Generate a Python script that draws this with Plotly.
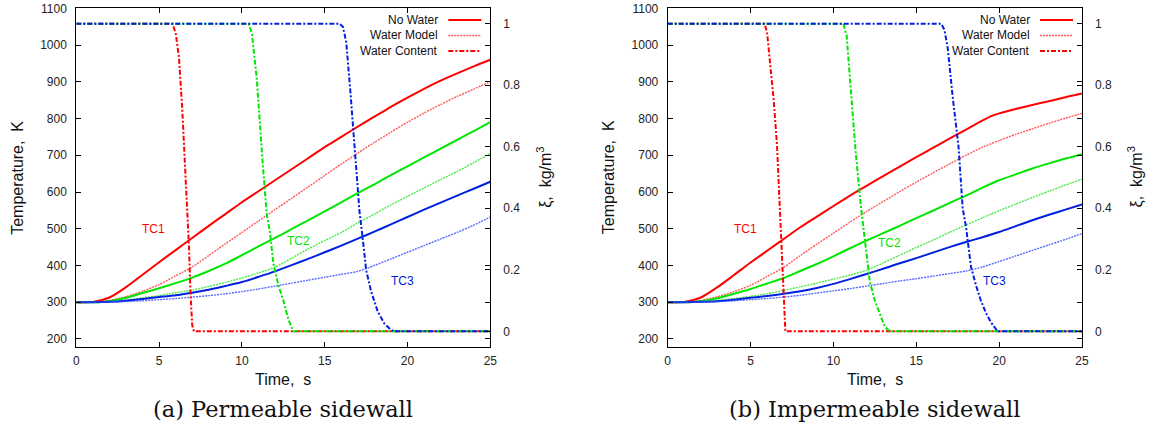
import plotly.graph_objects as go

# ---------------- data ----------------
t_sec = list(range(26))

# (a) Permeable sidewall - temperatures (K)
a_tc1_nowater = [300, 301, 313, 341, 375, 409, 442, 475, 508, 540, 572, 602, 632, 662, 692, 722, 750, 778, 805, 832, 857, 881, 903, 923, 942, 960]
a_tc1_model = [300, 300, 305, 315, 330, 348, 372, 396, 427, 459, 490, 521, 552, 583, 614, 645, 676, 706, 735, 763, 790, 815, 838, 860, 880, 900]
a_tc2_nowater = [300, 300, 303, 312, 325, 338, 352, 367, 385, 405, 428, 452, 475, 499, 523, 547, 572, 597, 621, 646, 670, 694, 718, 742, 766, 790]
a_tc2_model = [300, 300, 302, 306, 312, 318, 326, 333, 343, 354, 366, 380, 395, 420, 445, 468, 490, 516, 540, 565, 588, 611, 634, 656, 680, 705]
a_tc3_nowater = [300, 300, 301, 304, 309, 314, 319, 326, 334, 344, 355, 369, 384, 401, 418, 436, 454, 473, 492, 512, 532, 552, 571, 590, 609, 628]
a_tc3_model = [300, 300, 301, 302, 304, 307, 310, 314, 318, 323, 329, 336, 344, 352, 360, 368, 376, 384, 400, 418, 436, 454, 472, 490, 510, 532]

# (a) water content (kg/m^3)
a_tc1_wc_t = [0, 5.8, 6.0, 6.2, 6.4, 6.6, 6.8, 6.9, 7.0, 7.1, 25]
a_tc1_wc = [1, 1, 0.97, 0.89, 0.72, 0.5, 0.28, 0.12, 0.02, 0, 0]
a_tc2_wc_t = [0, 10.4, 10.6, 10.9, 11.25, 11.5, 11.7, 11.9, 12.2, 12.5, 12.8, 13.1, 25]
a_tc2_wc = [1, 1, 0.97, 0.82, 0.55, 0.38, 0.32, 0.22, 0.15, 0.1, 0.04, 0, 0]
a_tc3_wc_t = [0, 15.9, 16.1, 16.3, 16.55, 16.8, 17.1, 17.3, 17.5, 17.8, 18.2, 18.6, 19.0, 19.2, 25]
a_tc3_wc = [1, 1, 0.99, 0.94, 0.78, 0.6, 0.39, 0.3, 0.2, 0.13, 0.065, 0.025, 0.005, 0, 0]

# (b) Impermeable sidewall - temperatures (K)
b_tc1_nowater_t = [0, 1, 2, 3, 4, 5, 6, 7, 8, 9, 10, 11, 12, 13, 14, 15, 16, 17, 18, 19, 19.6, 20, 21, 22, 23, 24, 25]
b_tc1_nowater = [300, 301, 313, 341, 374, 408, 440, 472, 504, 533, 562, 590, 617, 643, 669, 695, 720, 745, 770, 795, 808, 814, 826, 837, 847, 858, 868]
b_tc1_model = [300, 300, 305, 315, 329, 346, 370, 395, 427, 458, 488, 518, 547, 574, 601, 627, 652, 676, 700, 722, 740, 757, 772, 787, 801, 814]
b_tc2_nowater = [300, 300, 303, 311, 323, 336, 351, 366, 385, 404, 425, 447, 468, 488, 508, 529, 549, 570, 590, 612, 632, 648, 664, 678, 691, 703]
b_tc2_model = [300, 300, 302, 305, 310, 316, 323, 332, 342, 352, 363, 374, 387, 407, 428, 449, 469, 490, 510, 530, 549, 567, 585, 602, 619, 635]
b_tc3_nowater = [300, 300, 301, 303, 307, 312, 317, 323, 330, 339, 350, 363, 377, 391, 406, 420, 435, 450, 464, 477, 491, 507, 523, 538, 552, 566]
b_tc3_model = [300, 300, 301, 302, 304, 307, 310, 314, 319, 325, 331, 337, 344, 351, 358, 364, 371, 378, 385, 396, 411, 426, 441, 456, 471, 487]

# (b) water content (kg/m^3)
b_tc1_wc_t = [0, 5.85, 6.0, 6.2, 6.4, 6.6, 6.8, 6.95, 7.05, 7.1, 25]
b_tc1_wc = [1, 1, 0.97, 0.87, 0.75, 0.6, 0.38, 0.2, 0.06, 0, 0]
b_tc2_wc_t = [0, 10.6, 10.8, 11.0, 11.33, 11.67, 11.9, 12.2, 12.5, 12.8, 13.1, 13.4, 25]
b_tc2_wc = [1, 1, 0.96, 0.81, 0.59, 0.4, 0.29, 0.16, 0.1, 0.054, 0.015, 0, 0]
b_tc3_wc_t = [0, 16.5, 16.7, 16.9, 17.2, 17.55, 17.8, 18.0, 18.3, 18.6, 18.9, 19.2, 19.5, 19.9, 25]
b_tc3_wc = [1, 1, 0.98, 0.92, 0.76, 0.6, 0.4, 0.34, 0.21, 0.15, 0.1, 0.06, 0.03, 0, 0]

x_ticks = [0, 5, 10, 15, 20, 25]
y_ticks = [200, 300, 400, 500, 600, 700, 800, 900, 1000, 1100]
y2_ticks = [0, 0.2, 0.4, 0.6, 0.8, 1]
y2_tick_text = ["0", "0.2", "0.4", "0.6", "0.8", "1"]
legend_labels = ["No Water", "Water Model", "Water Content"]
tc_labels = ["TC1", "TC2", "TC3"]
captions = ["(a) Permeable sidewall", "(b) Impermeable sidewall"]

# ---------------- styling ----------------
W, H = 1152, 431
RED, GREEN, BLUE = "#ff0000", "#00e600", "#0020e0"
RED_L, GREEN_L, BLUE_L = "rgba(255,60,60,0.85)", "rgba(40,230,40,0.85)", "rgba(60,80,255,0.85)"
SANS = "Liberation Sans, Arial, sans-serif"
SERIF = "DejaVu Serif, serif"
DASHDOT = "5px,2px,2px,2px"
DOT = "2px,1px"


def px_x(p):
    return p / W


def px_y(p):
    return 1 - p / H


panels = [
    dict(left=76.3, right=490.3, xa="x", ya="y", ya2="y2",
         temps=[(t_sec, a_tc1_nowater, t_sec, a_tc1_model, RED, RED_L),
                (t_sec, a_tc2_nowater, t_sec, a_tc2_model, GREEN, GREEN_L),
                (t_sec, a_tc3_nowater, t_sec, a_tc3_model, BLUE, BLUE_L)],
         wc=[(a_tc1_wc_t, a_tc1_wc, RED), (a_tc2_wc_t, a_tc2_wc, GREEN), (a_tc3_wc_t, a_tc3_wc, BLUE)],
         labels=[(4.66, 498), (13.4, 468), (19.7, 359)]),
    dict(left=667.7, right=1082.0, xa="x2", ya="y3", ya2="y4",
         temps=[(b_tc1_nowater_t, b_tc1_nowater, t_sec, b_tc1_model, RED, RED_L),
                (t_sec, b_tc2_nowater, t_sec, b_tc2_model, GREEN, GREEN_L),
                (t_sec, b_tc3_nowater, t_sec, b_tc3_model, BLUE, BLUE_L)],
         wc=[(b_tc1_wc_t, b_tc1_wc, RED), (b_tc2_wc_t, b_tc2_wc, GREEN), (b_tc3_wc_t, b_tc3_wc, BLUE)],
         labels=[(4.67, 498), (13.4, 462), (19.7, 359)]),
]

TOP, BOTTOM = 8.3, 346.7
ydom = [px_y(BOTTOM), px_y(TOP)]

fig = go.Figure()
annotations = []
shapes = []


def note(x, y, text, size, color="#111", family=SANS, xanchor="center", angle=0, xref="paper", yref="paper"):
    return dict(x=x, y=y, xref=xref, yref=yref, text=text, showarrow=False, textangle=angle,
                xanchor=xanchor, yanchor="middle", font=dict(family=family, size=size, color=color))


for i, p in enumerate(panels):
    for (tn, yn, tm, ym, c, cl) in p["temps"]:
        fig.add_trace(go.Scatter(x=tn, y=yn, mode="lines", xaxis=p["xa"], yaxis=p["ya"],
                                 line=dict(color=c, width=2, shape="spline", smoothing=0.8),
                                 showlegend=False, hoverinfo="skip"))
        fig.add_trace(go.Scatter(x=tm, y=ym, mode="lines", xaxis=p["xa"], yaxis=p["ya"],
                                 line=dict(color=cl, width=1.4, dash=DOT, shape="spline", smoothing=0.6),
                                 showlegend=False, hoverinfo="skip"))
    for (tw, w, c) in p["wc"]:
        fig.add_trace(go.Scatter(x=tw, y=w, mode="lines", xaxis=p["xa"], yaxis=p["ya2"],
                                 line=dict(color=c, width=2, dash=DASHDOT),
                                 showlegend=False, hoverinfo="skip"))
    # TC labels
    for (lx, ly), txt, c in zip(p["labels"], tc_labels, [RED, GREEN, BLUE]):
        annotations.append(note(lx, ly, txt, 12, color=c, xref=p["xa"], yref=p["ya"]))
    # legend (text left, sample right as in gnuplot)
    styles = [dict(color=RED, width=2), dict(color=RED_L, width=1.4, dash=DOT),
              dict(color=RED, width=2, dash=DASHDOT)]
    for k, (lab, st) in enumerate(zip(legend_labels, styles)):
        yy = 20 + k * 15.5
        annotations.append(note(px_x(p["right"] - 50), px_y(yy), lab, 12, xanchor="right"))
        shapes.append(dict(type="line", xref="paper", yref="paper",
                           x0=px_x(p["right"] - 42), x1=px_x(p["right"] - 9),
                           y0=px_y(yy), y1=px_y(yy), line=st))
    # axis titles and caption
    cx = (p["left"] + p["right"]) / 2
    cy = (TOP + BOTTOM) / 2
    annotations.append(note(px_x(cx), px_y(379), "Time,\u00a0\u00a0s", 16))
    annotations.append(note(px_x(p["left"] - 59), px_y(cy), "Temperature,\u00a0\u00a0K", 16, angle=-90))
    annotations.append(note(px_x(p["right"] + 54), px_y(cy), "\u03be,\u00a0\u00a0kg/m<sup>3</sup>", 16, angle=-90))
    annotations.append(note(px_x(cx), px_y(409), captions[i], 22.5, family=SERIF))

common_x = dict(range=[0, 25], tickvals=x_ticks, ticks="inside", ticklen=5, tickcolor="#000",
                showline=True, linecolor="#000", linewidth=1, mirror="ticks", showgrid=False,
                zeroline=False, tickfont=dict(family=SANS, size=12, color="#222"), ticklabelstandoff=3)
common_y = dict(range=[179, 1100], tickvals=y_ticks, ticks="inside", ticklen=5, tickcolor="#000",
                showline=True, linecolor="#000", linewidth=1, mirror="ticks", showgrid=False,
                zeroline=False, tickfont=dict(family=SANS, size=12, color="#222"), ticklabelstandoff=6,
                domain=ydom, automargin=False)
common_y2 = dict(range=[-0.05, 1.05], tickvals=y2_ticks, ticktext=y2_tick_text,
                 ticks="inside", ticklen=5, tickcolor="#000", side="right", showline=False,
                 showgrid=False, zeroline=False, tickfont=dict(family=SANS, size=12, color="#222"),
                 ticklabelstandoff=12, automargin=False)

fig.update_layout(
    width=W, height=H, margin=dict(l=0, r=0, t=0, b=0, pad=0), autosize=False,
    paper_bgcolor="white", plot_bgcolor="white", showlegend=False,
    xaxis=dict(common_x, domain=[px_x(76.3), px_x(490.3)], anchor="y", automargin=False),
    yaxis=dict(common_y, anchor="x"),
    yaxis2=dict(common_y2, overlaying="y", anchor="x"),
    xaxis2=dict(common_x, domain=[px_x(667.7), px_x(1082.0)], anchor="y3", automargin=False),
    yaxis3=dict(common_y, anchor="x2"),
    yaxis4=dict(common_y2, overlaying="y3", anchor="x2"),
    annotations=annotations, shapes=shapes,
)

fig.write_html("out.html")
